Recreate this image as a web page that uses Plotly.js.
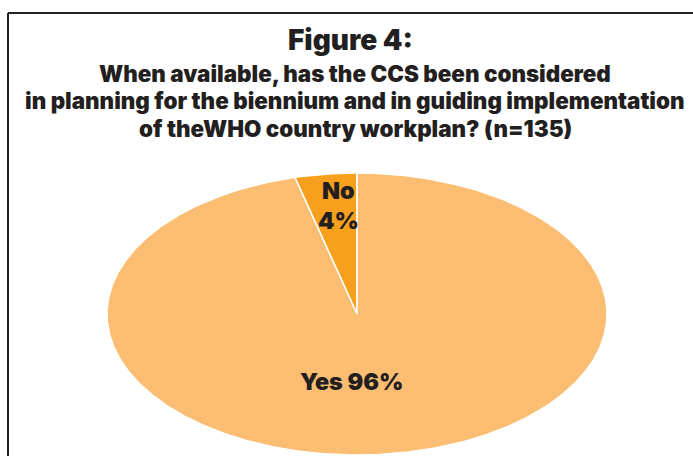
<!DOCTYPE html>
<html>
<head>
<meta charset="utf-8">
<script src="https://cdn.plot.ly/plotly-3.0.1.min.js"></script>
<style>html,body{margin:0;padding:0;background:#fff;}#chart{width:693px;height:456px;}</style>
</head>
<body>
<div id="chart"></div>
<script>
// ---- data ----
const labels = ['No', 'Yes'];
const values = [4, 96];
const colors = ['#F7A01E', '#FBBD72'];
const titleText = 'Figure 4:';
const subtitleLines = [
  'When available, has the CCS been considered',
  'in planning for the biennium and in guiding implementation',
  'of theWHO country workplan? (n=135)'
];

// ---- layout constants (pixels) ----
const W = 693, H = 456;
const CX = 357, CY = 314, RX = 250, RY = 141;
const FONT = 'Inter, Liberation Sans, Arial, sans-serif';
const subtitleY = [73, 100.5, 128];
const labelPos = { 'No': [-0.076, 0.766], 'Yes': [-0.02, -0.48] };
const labelText = { 'No': l => l.label + '<br>' + l.pct + '%', 'Yes': l => l.label + ' ' + l.pct + '%' };

const total = values.reduce((a, b) => a + b, 0);
const traces = [];
const annotations = [];
let start = 0; // degrees, 0 = 12 o'clock, counterclockwise negative
labels.forEach((lab, i) => {
  const sweep = values[i] / total * 360;
  const end = start - sweep;
  const xs = [0], ys = [0];
  const n = Math.max(4, Math.ceil(sweep * 2));
  for (let k = 0; k <= n; k++) {
    const th = (start + (end - start) * k / n) * Math.PI / 180;
    xs.push(Math.sin(th));
    ys.push(Math.cos(th));
  }
  xs.push(0); ys.push(0);
  traces.push({
    type: 'scatter', mode: 'lines', x: xs, y: ys,
    fill: 'toself', fillcolor: colors[i],
    line: { color: '#ffffff', width: 1.5 },
    hoverinfo: 'skip', showlegend: false, name: lab
  });
  const pct = Math.round(values[i] / total * 100);
  annotations.push({
    x: labelPos[lab][0], y: labelPos[lab][1], xref: 'x', yref: 'y',
    text: labelText[lab]({ label: lab, pct: pct }),
    showarrow: false, xanchor: 'center', yanchor: 'middle',
    font: { family: FONT, size: 23.4, color: '#231F20', weight: 900 }
  });
  start = end;
});

annotations.push({
  x: 351 / W, y: 1 - 40 / H, xref: 'paper', yref: 'paper',
  text: titleText, showarrow: false,
  xanchor: 'center', yanchor: 'middle',
  font: { family: FONT, size: 28, color: '#231F20', weight: 900 }
});
subtitleLines.forEach((s, i) => {
  annotations.push({
    x: 355 / W, y: 1 - subtitleY[i] / H, xref: 'paper', yref: 'paper',
    text: s, showarrow: false,
    xanchor: 'center', yanchor: 'middle', align: 'center',
    font: { family: FONT, size: 22.4, color: '#231F20', weight: 900 }
  });
});

const layout = {
  width: W, height: H,
  margin: { l: 0, r: 0, t: 0, b: 0 },
  paper_bgcolor: '#ffffff', plot_bgcolor: 'rgba(0,0,0,0)',
  xaxis: { range: [-CX / RX, (W - CX) / RX], visible: false, fixedrange: true },
  yaxis: { range: [-(H - CY) / RY, CY / RY], visible: false, fixedrange: true },
  showlegend: false,
  annotations: annotations,
  shapes: [
    { type: 'line', xref: 'paper', yref: 'paper', x0: 8 / W, x1: 1, y0: 1 - 13 / H, y1: 1 - 13 / H, line: { color: '#222222', width: 2 } },
    { type: 'line', xref: 'paper', yref: 'paper', x0: 8 / W, x1: 8 / W, y0: 0, y1: 1 - 13 / H, line: { color: '#222222', width: 2 } }
  ]
};

Plotly.newPlot('chart', traces, layout, { displayModeBar: false, staticPlot: true });
</script>
</body>
</html>
